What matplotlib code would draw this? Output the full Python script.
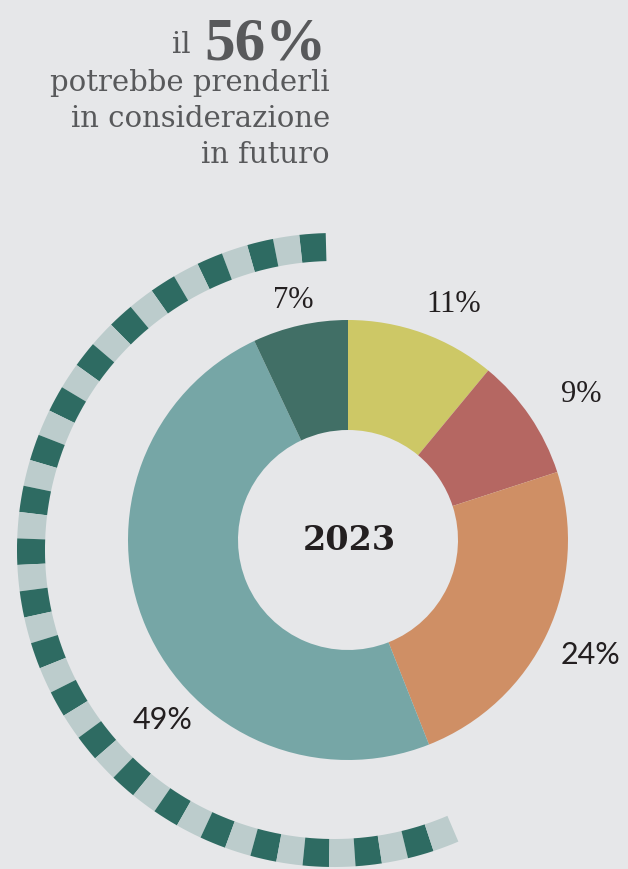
import matplotlib
matplotlib.use("Agg")
import matplotlib.pyplot as plt
from matplotlib.patches import Wedge

# ---- data ----
values = [11, 9, 24, 49, 7]
labels = ["11%", "9%", "24%", "49%", "7%"]
colors = ["#cdc866", "#b56762", "#cf8f65", "#76a6a6", "#416f66"]
year = "2023"
future_share = 56  # % shown by the dashed outer arc
title_lines = ["potrebbe prenderli", "in considerazione", "in futuro"]

BG = "#e6e7e9"
W, H = 628, 869
fig = plt.figure(figsize=(W / 100, H / 100), dpi=100, facecolor=BG)
ax = fig.add_axes([0, 0, 1, 1])
ax.set_facecolor(BG)

def Y(y):  # convert top-origin pixel y to data y
    return H - y

# donut
cx, cy = 348, Y(540)
ax.pie(values, colors=colors, startangle=90, counterclock=False,
       radius=220, center=(cx, cy),
       wedgeprops=dict(width=110, linewidth=0))

# dashed outer arc representing future share
acx, acy = 334, Y(550)
R_out, ring_w = 317, 28
n_seg = 42
span = future_share / 100 * 360
start = 91.5
seg = span / n_seg
for i in range(n_seg):
    col = "#2e6b62" if i % 2 == 0 else "#bccccc"
    ax.add_patch(Wedge((acx, acy), R_out, start + i * seg, start + (i + 1) * seg,
                       width=ring_w, facecolor=col, edgecolor="none"))

# labels
label_pos = [(454, 305), (581, 395), (591, 655), (163, 720), (293, 301)]
label_font = ["Liberation Serif", "Liberation Serif", "Lato", "Lato", "Liberation Serif"]
label_size = [22, 22, 22, 22, 22]
for lab, (x, y), f, s in zip(labels, label_pos, label_font, label_size):
    ax.text(x, Y(y), lab, ha="center", va="center", fontsize=s,
            family=f, color="#231f20")

# centre year
ax.text(349, Y(540), year, ha="center", va="center", fontsize=24,
        family="DejaVu Serif", fontweight="bold", color="#231f20")

# title block
tcol = "#58595b"
ax.text(327, Y(60), f"{future_share}%", ha="right", va="baseline", fontsize=44,
        family="Liberation Serif", fontweight="bold", color=tcol)
ax.text(191, Y(53), "il", ha="right", va="baseline", fontsize=21,
        family="DejaVu Serif", color=tcol)
for line, yb in zip(title_lines, [91, 127, 163]):
    ax.text(330, Y(yb), line, ha="right", va="baseline", fontsize=21,
            family="DejaVu Serif", color=tcol)

ax.set_xlim(0, W)
ax.set_ylim(0, H)
ax.set_aspect("equal")
ax.set_axis_off()
fig.savefig("out.png", dpi=100, facecolor=BG)
